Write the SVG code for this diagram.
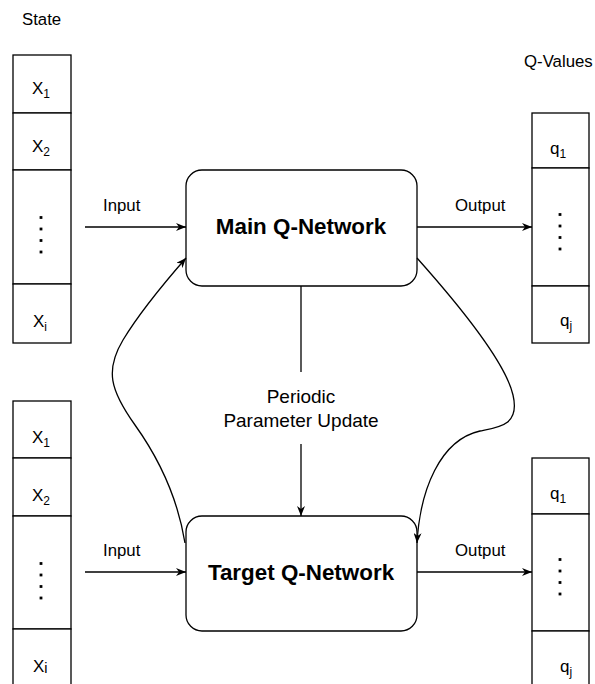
<svg xmlns="http://www.w3.org/2000/svg" width="595" height="684" viewBox="0 0 595 684">
<style>
.cell{fill:#fff;stroke:#000;stroke-width:1.3}
.box{fill:#fff;stroke:#000;stroke-width:1.3}
.t{font-family:"Liberation Sans",Arial,sans-serif;font-size:16.8px;fill:#000}
.v{font-family:"Liberation Sans",Arial,sans-serif;font-size:17px;fill:#000}
.sub{font-size:12px}
.d{fill:#000}
.b{font-family:"Liberation Sans",Arial,sans-serif;font-size:22.4px;font-weight:bold;fill:#000;text-anchor:middle}
.lbl{font-family:"Liberation Sans",Arial,sans-serif;font-size:19px;fill:#000;text-anchor:middle}
.c{fill:none;stroke:#000;stroke-width:1.3}
</style>
<defs>
<marker id="arr" viewBox="0 0 10 8" refX="10" refY="4" markerWidth="10" markerHeight="8" markerUnits="userSpaceOnUse" orient="auto">
<path d="M0,0 L10,4 L0,8 L3,4 z" fill="#000"/>
</marker>
<rect id="dt" class="d" x="-1.4" y="-1.4" width="2.8" height="2.8"/>
</defs>
<rect width="595" height="684" fill="#fff"/>

<text class="t" x="22" y="25">State</text>
<text class="t" x="524" y="67">Q-Values</text>

<g id="state-main">
<rect class="cell" x="13" y="55" width="58" height="58"/>
<rect class="cell" x="13" y="113" width="58" height="57"/>
<rect class="cell" x="13" y="170" width="58" height="114"/>
<rect class="cell" x="13" y="284" width="58" height="59"/>
<text class="v" x="32" y="94">X<tspan class="sub" dy="4">1</tspan></text>
<text class="v" x="32" y="152">X<tspan class="sub" dy="4">2</tspan></text>
<use href="#dt" x="41" y="217.5"/><use href="#dt" x="41" y="229"/><use href="#dt" x="41" y="240.5"/><use href="#dt" x="41" y="252"/>
<text class="v" x="33" y="327">X<tspan class="sub" dy="4">i</tspan></text>
</g>

<g id="state-target">
<rect class="cell" x="13" y="401" width="58" height="57"/>
<rect class="cell" x="13" y="458" width="58" height="58"/>
<rect class="cell" x="13" y="516" width="58" height="113"/>
<rect class="cell" x="13" y="629" width="58" height="60"/>
<text class="v" x="32" y="443">X<tspan class="sub" dy="4">1</tspan></text>
<text class="v" x="32" y="501">X<tspan class="sub" dy="4">2</tspan></text>
<use href="#dt" x="41" y="563.5"/><use href="#dt" x="41" y="575"/><use href="#dt" x="41" y="586.5"/><use href="#dt" x="41" y="598"/>
<text class="v" x="33" y="672">X<tspan font-size="14.5px" dy="1">i</tspan></text>
</g>

<g id="main-q-network">
<rect class="box" x="186" y="170" width="231" height="116" rx="16" ry="16"/>
<text class="b" x="301" y="234">Main Q-Network</text>
</g>

<g id="target-q-network">
<rect class="box" x="186" y="516" width="231" height="115" rx="16" ry="16"/>
<text class="b" x="301" y="580">Target Q-Network</text>
</g>

<g id="qvalues-main">
<rect class="cell" x="532" y="113" width="57" height="55"/>
<rect class="cell" x="532" y="168" width="57" height="118"/>
<rect class="cell" x="532" y="286" width="57" height="57"/>
<text class="v" x="550" y="154">q<tspan class="sub" dy="4">1</tspan></text>
<use href="#dt" x="560" y="214.5"/><use href="#dt" x="560" y="226"/><use href="#dt" x="560" y="237.5"/><use href="#dt" x="560" y="249"/>
<text class="v" x="560" y="326">q<tspan class="sub" dy="4">j</tspan></text>
</g>

<g id="qvalues-target">
<rect class="cell" x="532" y="458" width="57" height="56"/>
<rect class="cell" x="532" y="514" width="57" height="117"/>
<rect class="cell" x="532" y="631" width="57" height="58"/>
<text class="v" x="550" y="499">q<tspan class="sub" dy="4">1</tspan></text>
<use href="#dt" x="560" y="559.5"/><use href="#dt" x="560" y="571"/><use href="#dt" x="560" y="582.5"/><use href="#dt" x="560" y="594"/>
<text class="v" x="560" y="672">q<tspan class="sub" dy="4">j</tspan></text>
</g>

<g id="connectors">
<line class="c" x1="85" y1="227" x2="186" y2="227" marker-end="url(#arr)"/>
<text class="t" x="103" y="211">Input</text>
<line class="c" x1="417" y1="227" x2="532" y2="227" marker-end="url(#arr)"/>
<text class="t" x="455" y="211">Output</text>
<line class="c" x1="85" y1="572" x2="186" y2="572" marker-end="url(#arr)"/>
<text class="t" x="103" y="556">Input</text>
<line class="c" x1="417" y1="572" x2="532" y2="572" marker-end="url(#arr)"/>
<text class="t" x="455" y="556">Output</text>
<line class="c" x1="301" y1="286" x2="301" y2="372"/>
<line class="c" x1="301" y1="444" x2="301" y2="516" marker-end="url(#arr)"/>
<text class="lbl" x="301" y="403">Periodic</text>
<text class="lbl" x="301" y="427">Parameter Update</text>
<path class="c" d="M185,543 C178,500 160,460 135,425 C110,390 105,370 123,340 C140,312 165,282 186,258" marker-end="url(#arr)"/>
<path class="c" d="M417,258 C450,295 505,360 513,395 C520,425 500,427 480,431 C440,440 420,490 417,543" marker-end="url(#arr)"/>
</g>
</svg>
